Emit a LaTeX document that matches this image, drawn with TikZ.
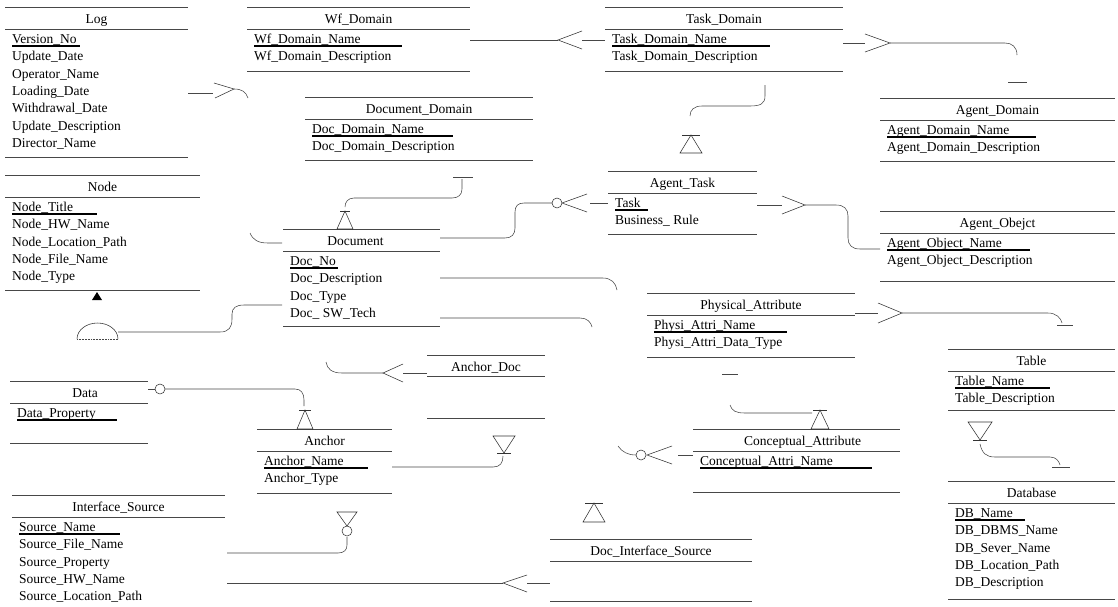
\documentclass[tikz,border=0pt]{standalone}
\usepackage{fontspec}
\setmainfont{Liberation Serif}
\newcommand\ERbox[8][0]{%
  \draw[ln] (#3,#5) -- (#4,#5);
  \node[ttl] (#2) at ({(#3+#4)/2+#1},{#5+16.5}) {#7};
  \draw[ln] (#3,{#5+22}) -- (#4,{#5+22});
  \foreach \a [count=\i] in {#8} {\node[attr] (#2-\i) at ({#3+7},{#5+36.5+17.3*(\i-1)}) {\a};}
  \draw[ln] (#3,#6) -- (#4,#6);
}
\newcommand\KEY[3]{\draw[ul] ({#1+7},{#2+39}) -- (#3,{#2+39});}
\begin{document}
\begin{tikzpicture}[x=1pt,y=-1pt,
  ln/.style={draw=black!72,line width=0.55pt},
  ul/.style={draw=black,line width=1.1pt},
  ttl/.style={anchor=base,inner sep=0pt,font=\fontsize{13.5}{16}\selectfont},
  attr/.style={anchor=base west,inner sep=0pt,font=\fontsize{13.5}{16}\selectfont},
  cn/.style={draw=black!72,line width=0.55pt},
  sym/.style={draw=black!80,line width=0.55pt},
]
\fill[white] (0,0) rectangle (1118,606);
\useasboundingbox (0,0) rectangle (1118,606);

% ---------------- entities
\ERbox{log}{5}{188}{7}{157}{Log}{Version\_No,Update\_Date,Operator\_Name,Loading\_Date,Withdrawal\_Date,Update\_Description,Director\_Name}
\KEY{5}{7}{80}
\ERbox{wf}{247}{470}{7}{71}{Wf\_Domain}{Wf\_Domain\_Name,Wf\_Domain\_Description}
\KEY{247}{7}{402}
\ERbox{taskdom}{605}{843}{7}{71}{Task\_Domain}{Task\_Domain\_Name,Task\_Domain\_Description}
\KEY{605}{7}{770}
\ERbox{docdom}{305}{533}{97}{160}{Document\_Domain}{Doc\_Domain\_Name,Doc\_Domain\_Description}
\KEY{305}{97}{453}
\ERbox{agentdom}{880}{1115}{98}{161}{Agent\_Domain}{Agent\_Domain\_Name,Agent\_Domain\_Description}
\KEY{880}{98}{1036}
\ERbox{node}{5}{200}{175}{290}{Node}{Node\_Title,Node\_HW\_Name,Node\_Location\_Path,Node\_File\_Name,Node\_Type}
\KEY{5}{175}{97}
\ERbox{agenttask}{608}{757}{171}{234}{Agent\_Task}{Task,Business\_ Rule}
\KEY{608}{171}{648}
\ERbox{agentobj}{880}{1115}{211}{281}{Agent\_Obejct}{Agent\_Object\_Name,Agent\_Object\_Description}
\KEY{880}{211}{1030}
\ERbox[-6]{document}{283}{440}{229}{326}{Document}{Doc\_No,Doc\_Description,Doc\_Type,Doc\_ SW\_Tech}
\KEY{283}{229}{338}
\ERbox{phys}{647}{855}{293}{357}{Physical\_Attribute}{Physi\_Attri\_Name,Physi\_Attri\_Data\_Type}
\KEY{647}{293}{787}
\ERbox{table}{948}{1115}{349}{410}{Table}{Table\_Name,Table\_Description}
\KEY{948}{349}{1050}
\ERbox[6]{data}{10}{148}{381}{443}{Data}{Data\_Property}
\KEY{10}{381}{117}
\ERbox{anchor}{257}{392}{429}{493}{Anchor}{Anchor\_Name,Anchor\_Type}
\KEY{257}{429}{368}
\ERbox[6]{concept}{693}{900}{429}{492}{Conceptual\_Attribute}{Conceptual\_Attri\_Name}
\KEY{693}{429}{872}
\ERbox{database}{948}{1115}{481}{599}{Database}{DB\_Name,DB\_DBMS\_Name,DB\_Sever\_Name,DB\_Location\_Path,DB\_Description}
\KEY{948}{481}{1025}
\ERbox{iface}{12}{225}{495}{495}{Interface\_Source}{Source\_Name,Source\_File\_Name,Source\_Property,Source\_HW\_Name,Source\_Location\_Path}
\KEY{12}{495}{120}
% entities without attributes
\draw[ln] (427,355) -- (545,355);
\node[ttl] (anchordoc) at (486,371.5) {Anchor\_Doc};
\draw[ln] (427,376) -- (545,376);
\draw[ln] (427,418) -- (545,418);
\draw[ln] (550,539) -- (752,539);
\node[ttl] (docif) at (651,555.5) {Doc\_Interface\_Source};
\draw[ln] (550,561) -- (752,561);
\draw[ln] (550,601) -- (752,601);

% ---------------- connectors
% Log -> (right)
\draw[cn] (188,93) -- (213,93);
\draw[sym] (214,83) -- (234,89) -- (215,98);
\draw[cn] (234,89) .. controls (242,89) and (246,92) .. (248,98);
% Wf_Domain -> Task_Domain
\draw[cn] (470,40) -- (558,40);
\draw[sym] (582,31) -- (558,40) -- (582,49);
\draw[cn] (582,40) -- (605,40);
% Task_Domain -> Agent_Domain
\draw[cn] (843,43) -- (865,43);
\draw[sym] (865,34) -- (890,43) -- (865,52);
\draw[cn] (890,43) -- (1005,43) .. controls (1012,43) and (1017,47) .. (1017,55);
\draw[cn] (1008,82) -- (1027,82);
% Task_Domain -> Agent_Task (subtype triangle)
\draw[cn] (765,85) -- (765,96) .. controls (765,104) and (760,106) .. (750,106) -- (702,106) .. controls (694,106) and (690,110) .. (690,116);
\draw[sym] (682,135) -- (700,135);
\draw[sym] (691,135) -- (680,153) -- (702,153) -- cycle;
% Document_Domain -> Document
\draw[cn] (453,177) -- (473,177);
\draw[cn] (462,179) -- (462,189) .. controls (462,195) and (458,198) .. (452,198) -- (354,198) .. controls (348,198) and (345,202) .. (345,207);
\draw[sym] (340,211) -- (350,211);
\draw[sym] (345,211) -- (337,229) -- (353,229) -- cycle;
% Document -> Agent_Task
\draw[cn] (440,238) -- (505,238) .. controls (512,238) and (515,234) .. (515,228) -- (515,212) .. controls (515,206) and (518,203) .. (524,203) -- (552,203);
\draw[sym] (557,203) circle[radius=5pt];
\draw[sym] (587,194) -- (562,203) -- (587,212);
\draw[cn] (590,203) -- (608,203);
% Agent_Task -> Agent_Obejct
\draw[cn] (757,205) -- (782,205);
\draw[sym] (782,196) -- (805,205) -- (782,214);
\draw[cn] (805,205) -- (836,205) .. controls (844,205) and (848,209) .. (848,216) -- (848,238) .. controls (848,245) and (852,249) .. (860,249) -- (880,249);
% Node -> Document (stub)
\draw[cn] (250,233) .. controls (253,240) and (258,243) .. (268,243) -- (282,243);
% Node: total marker and dome
\fill[black] (92,300) -- (102,300) -- (97,292) -- cycle;
\draw[sym] (77,339) arc[start angle=180,end angle=0,x radius=20.5pt,y radius=16pt];
\draw[ln,densely dotted] (77,339) -- (118,339);
\draw[cn] (118,332) -- (220,332) .. controls (229,332) and (232,327) .. (232,319) -- (232,314) .. controls (232,308) and (236,305) .. (244,305) -- (282,305);
% Document -> right
\draw[cn] (440,278) -- (603,278) .. controls (611,278) and (616,283) .. (617,290);
\draw[cn] (440,318) -- (580,318) .. controls (587,318) and (591,322) .. (592,327);
% Physical_Attribute -> Table
\draw[cn] (855,313) -- (878,313);
\draw[sym] (878,303) -- (902,313) -- (878,323);
\draw[cn] (902,313) -- (1048,313) .. controls (1056,313) and (1061,318) .. (1062,323);
\draw[cn] (1057,325) -- (1073,325);
% Table -> Database
\draw[sym] (968,422) -- (992,422) -- (980,440) -- cycle;
\draw[sym] (973,440) -- (987,440);
\draw[cn] (980,444) .. controls (982,453) and (986,457) .. (995,457) -- (1050,457) .. controls (1056,457) and (1059,461) .. (1060,465);
\draw[cn] (1052,467) -- (1070,467);
% Data -> Anchor
\draw[cn] (148,389) -- (155,389);
\draw[sym] (160,389) circle[radius=5pt];
\draw[cn] (165,389) -- (295,389) .. controls (301,389) and (304,393) .. (304,400) -- (304,406);
\draw[sym] (299,410) -- (311,410);
\draw[sym] (305,410) -- (297,429) -- (313,429) -- cycle;
% Anchor -> Anchor_Doc
\draw[cn] (392,467) -- (493,467) .. controls (500,467) and (503,463) .. (503,456);
\draw[sym] (493,436) -- (515,436) -- (504,453) -- cycle;
\draw[sym] (497,453) -- (511,453);
% Anchor_Doc -> Document
\draw[cn] (427,373) -- (403,373);
\draw[sym] (403,364) -- (383,373) -- (403,382);
\draw[cn] (383,373) -- (342,373) .. controls (332,373) and (327,369) .. (326,362);
% Interface_Source -> Anchor
\draw[cn] (227,553) -- (338,553) .. controls (344,553) and (347,550) .. (347,545) -- (347,537);
\draw[sym] (347,531) circle[radius=5pt];
\draw[sym] (337,512) -- (357,512) -- (347,526) -- cycle;
% Interface_Source -> Doc_Interface_Source
\draw[cn] (227,583) -- (503,583);
\draw[sym] (527,575) -- (503,583) -- (527,592);
\draw[cn] (527,583) -- (550,583);
% Doc_Interface_Source triangle
\draw[sym] (585,503) -- (603,503);
\draw[sym] (594,503) -- (583,522) -- (605,522) -- cycle;
% Conceptual_Attribute (left)
\draw[cn] (618,446) .. controls (622,452) and (628,455) .. (636,455);
\draw[sym] (641,455) circle[radius=5pt];
\draw[sym] (672,446) -- (647,455) -- (672,464);
\draw[cn] (678,455) -- (693,455);
% Physical_Attribute -> Conceptual_Attribute
\draw[cn] (722,374) -- (738,374);
\draw[cn] (730,405) .. controls (732,411) and (736,413) .. (745,413) -- (812,413);
\draw[sym] (813,410) -- (827,410);
\draw[sym] (820,410) -- (811,429) -- (829,429) -- cycle;
\end{tikzpicture}
\end{document}
